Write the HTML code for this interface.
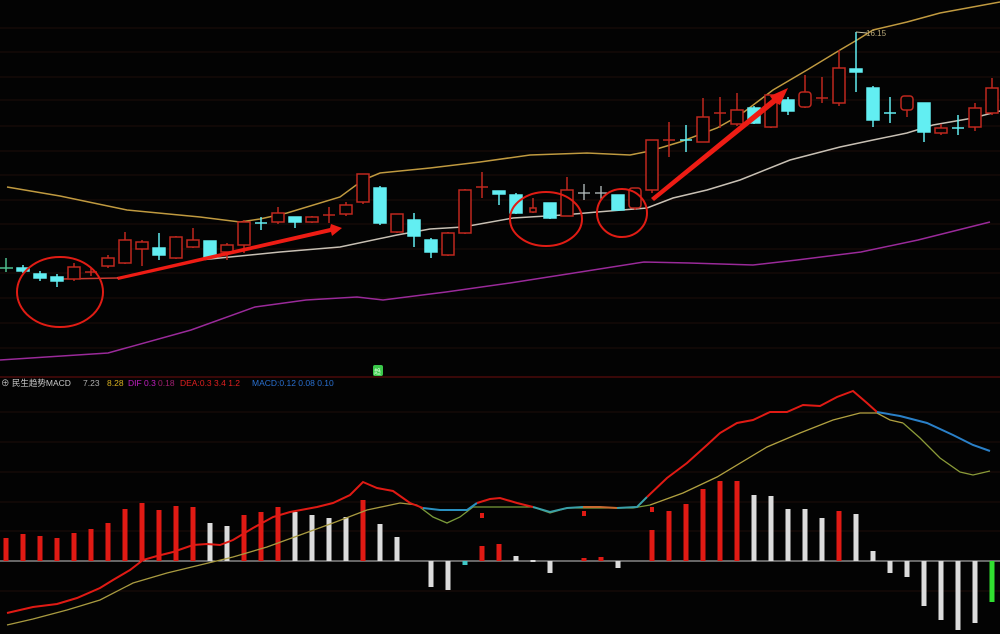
<!DOCTYPE html>
<html><head><meta charset="utf-8"><style>
html,body{margin:0;padding:0;background:#030303;}
svg{display:block;}
text{font-family:"Liberation Sans","Noto Sans CJK SC",sans-serif;}
</style></head><body>
<svg width="1000" height="634" viewBox="0 0 1000 634" xmlns="http://www.w3.org/2000/svg">
<rect width="1000" height="634" fill="#030303"/>
<!-- grid -->
<g stroke="#1c0c08" stroke-width="1">
<line x1="0" y1="28" x2="1000" y2="28"/><line x1="0" y1="52" x2="1000" y2="52"/>
<line x1="0" y1="77" x2="1000" y2="77"/><line x1="0" y1="100" x2="1000" y2="100"/>
<line x1="0" y1="126" x2="1000" y2="126"/><line x1="0" y1="151" x2="1000" y2="151"/>
<line x1="0" y1="175" x2="1000" y2="175"/><line x1="0" y1="200" x2="1000" y2="200"/>
<line x1="0" y1="224" x2="1000" y2="224"/><line x1="0" y1="249" x2="1000" y2="249"/>
<line x1="0" y1="273" x2="1000" y2="273"/><line x1="0" y1="298" x2="1000" y2="298"/>
<line x1="0" y1="323" x2="1000" y2="323"/><line x1="0" y1="348" x2="1000" y2="348"/>
<line x1="0" y1="412" x2="1000" y2="412"/><line x1="0" y1="442" x2="1000" y2="442"/>
<line x1="0" y1="472" x2="1000" y2="472"/><line x1="0" y1="502" x2="1000" y2="502"/>
<line x1="0" y1="531" x2="1000" y2="531"/><line x1="0" y1="591" x2="1000" y2="591"/>
</g>
<line x1="0" y1="377" x2="1000" y2="377" stroke="#5a0c0c" stroke-width="1.2"/>

<!-- purple line -->
<polyline fill="none" stroke="#9a2a9a" stroke-width="1.5" points="0,360 108,353 191,330 255,307 306,300 357,297 383,300 446,292 510,283 574,273 644,262 689,263 753,265 797,260 861,252 918,240 990,222"/>
<!-- upper band -->
<polyline fill="none" stroke="#c09a40" stroke-width="1.5" points="7,187 60,196 127,210 200,217 240,222 260,219 287,213 340,197 363,180 380,173 430,168 480,162 530,155 587,153 630,155 650,151 680,142 717,128 740,115 773,90 807,70 840,50 857,40 873,30 907,22 940,13 1000,2"/>
<!-- middle line -->
<polyline fill="none" stroke="#c8c0b4" stroke-width="1.5" points="117,278 200,260 280,252 340,247 397,235 430,229 463,227 513,218 563,215 597,212 647,208 673,198 707,190 740,180 790,160 840,147 873,140 907,133 933,125 973,118 1000,111"/>
<line x1="62" y1="279" x2="117" y2="278" stroke="#c83a30" stroke-width="1.5"/>

<!-- red candles -->
<g fill="#030303" stroke="#c0281e" stroke-width="1.5">
<line x1="74" y1="263" x2="74" y2="281"/><rect x="68" y="267" width="12" height="12"/>
<line x1="108" y1="255" x2="108" y2="268"/><rect x="102" y="258" width="12" height="8"/>
<line x1="125" y1="232" x2="125" y2="264"/><rect x="119" y="240" width="12" height="23"/>
<line x1="142" y1="240" x2="142" y2="266"/><rect x="136" y="242" width="12" height="7"/>
<line x1="176" y1="236" x2="176" y2="259"/><rect x="170" y="237" width="12" height="21"/>
<line x1="193" y1="228" x2="193" y2="248"/><rect x="187" y="240" width="12" height="7"/>
<line x1="227" y1="243" x2="227" y2="260"/><rect x="221" y="245" width="12" height="7"/>
<line x1="244" y1="220" x2="244" y2="253"/><rect x="238" y="222" width="12" height="23"/>
<line x1="278" y1="207" x2="278" y2="224"/><rect x="272" y="213" width="12" height="9"/>
<line x1="312" y1="216" x2="312" y2="223"/><rect x="306" y="217" width="12" height="5"/>
<line x1="346" y1="202" x2="346" y2="216"/><rect x="340" y="205" width="12" height="9"/>
<line x1="363" y1="174" x2="363" y2="204"/><rect x="357" y="174" width="12" height="28"/>
<line x1="397" y1="214" x2="397" y2="233"/><rect x="391" y="214" width="12" height="18"/>
<line x1="448" y1="232" x2="448" y2="256"/><rect x="442" y="233" width="12" height="22"/>
<line x1="465" y1="189" x2="465" y2="234"/><rect x="459" y="190" width="12" height="43"/>
<line x1="533" y1="198" x2="533" y2="213"/><rect x="530" y="208" width="6" height="4"/>
<line x1="567" y1="177" x2="567" y2="216"/><rect x="561" y="190" width="12" height="26"/>
<line x1="635" y1="188" x2="635" y2="210"/><rect x="629" y="188" width="12" height="20" rx="3"/>
<line x1="652" y1="140" x2="652" y2="193"/><rect x="646" y="140" width="12" height="50"/>
<line x1="703" y1="98" x2="703" y2="142"/><rect x="697" y="117" width="12" height="25"/>
<line x1="737" y1="93" x2="737" y2="126"/><rect x="731" y="110" width="12" height="14"/>
<line x1="771" y1="95" x2="771" y2="128"/><rect x="765" y="95" width="12" height="32"/>
<line x1="805" y1="75" x2="805" y2="108"/><rect x="799" y="92" width="12" height="15" rx="3"/>
<line x1="839" y1="50" x2="839" y2="106"/><rect x="833" y="68" width="12" height="35"/>
<line x1="907" y1="96" x2="907" y2="117"/><rect x="901" y="96" width="12" height="14" rx="3"/>
<line x1="941" y1="124" x2="941" y2="135"/><rect x="935" y="128" width="12" height="5"/>
<line x1="975" y1="103" x2="975" y2="131"/><rect x="969" y="108" width="12" height="19"/>
<line x1="992" y1="78" x2="992" y2="115"/><rect x="986" y="88" width="12" height="25"/>
</g>
<!-- red crosses -->
<g stroke="#c0281e" stroke-width="1.5">
<line x1="91" y1="268" x2="91" y2="276"/><line x1="85" y1="272" x2="97" y2="272"/>
<line x1="329" y1="207" x2="329" y2="223"/><line x1="323" y1="215" x2="335" y2="215"/>
<line x1="482" y1="172" x2="482" y2="198"/><line x1="476" y1="187" x2="488" y2="187"/>
<line x1="669" y1="122" x2="669" y2="157"/><line x1="663" y1="140" x2="675" y2="140"/>
<line x1="720" y1="97" x2="720" y2="128"/><line x1="714" y1="113" x2="726" y2="113"/>
<line x1="822" y1="77" x2="822" y2="103"/><line x1="816" y1="98" x2="828" y2="98"/>
</g>
<!-- cyan candles -->
<g fill="#62eef2" stroke="#62eef2" stroke-width="1.5">
<line x1="23" y1="265" x2="23" y2="273"/><rect x="17" y="268" width="12" height="3"/>
<line x1="40" y1="271" x2="40" y2="281"/><rect x="34" y="274" width="12" height="4"/>
<line x1="57" y1="274" x2="57" y2="287"/><rect x="51" y="277" width="12" height="4"/>
<line x1="159" y1="233" x2="159" y2="260"/><rect x="153" y="248" width="12" height="7"/>
<line x1="210" y1="241" x2="210" y2="259"/><rect x="204" y="241" width="12" height="16"/>
<line x1="295" y1="217" x2="295" y2="228"/><rect x="289" y="217" width="12" height="5"/>
<line x1="380" y1="186" x2="380" y2="225"/><rect x="374" y="188" width="12" height="35"/>
<line x1="414" y1="213" x2="414" y2="247"/><rect x="408" y="220" width="12" height="16"/>
<line x1="431" y1="238" x2="431" y2="258"/><rect x="425" y="240" width="12" height="12"/>
<line x1="499" y1="191" x2="499" y2="205"/><rect x="493" y="191" width="12" height="3"/>
<line x1="516" y1="193" x2="516" y2="214"/><rect x="510" y="195" width="12" height="18"/>
<line x1="550" y1="203" x2="550" y2="219"/><rect x="544" y="203" width="12" height="15"/>
<line x1="618" y1="195" x2="618" y2="211"/><rect x="612" y="195" width="12" height="15"/>
<line x1="754" y1="106" x2="754" y2="124"/><rect x="748" y="108" width="12" height="15"/>
<line x1="788" y1="97" x2="788" y2="115"/><rect x="782" y="100" width="12" height="11"/>
<line x1="856" y1="32" x2="856" y2="92"/><rect x="850" y="69" width="12" height="3"/>
<line x1="873" y1="86" x2="873" y2="127"/><rect x="867" y="88" width="12" height="32"/>
<line x1="924" y1="103" x2="924" y2="142"/><rect x="918" y="103" width="12" height="29"/>
</g>
<g stroke="#62eef2" stroke-width="1.5">
<line x1="261" y1="217" x2="261" y2="230"/><line x1="255" y1="223" x2="267" y2="223"/>
<line x1="686" y1="125" x2="686" y2="152"/><line x1="680" y1="140" x2="692" y2="140"/>
<line x1="890" y1="97" x2="890" y2="123"/><line x1="884" y1="113" x2="896" y2="113"/>
<line x1="958" y1="115" x2="958" y2="135"/><line x1="952" y1="128" x2="964" y2="128"/>
</g>
<g stroke="#b8c0c0" stroke-width="1.3">
<line x1="584" y1="184" x2="584" y2="200"/><line x1="578" y1="193" x2="590" y2="193"/>
<line x1="601" y1="186" x2="601" y2="200"/><line x1="595" y1="193" x2="607" y2="193"/>
</g>
<g stroke="#4fbf8f" stroke-width="1.5">
<line x1="6" y1="258" x2="6" y2="272"/><line x1="0" y1="268" x2="13" y2="268"/>
</g>
<!-- peak label -->
<line x1="856" y1="32" x2="867" y2="33" stroke="#c8c0a0" stroke-width="1"/>
<text x="866" y="36" font-size="8" fill="#b8a878">16.15</text>

<!-- red circles -->
<g fill="none" stroke="#e01c14" stroke-width="2">
<ellipse cx="60" cy="292" rx="43" ry="35"/>
<ellipse cx="546" cy="219" rx="36" ry="27"/>
<ellipse cx="622" cy="213" rx="25" ry="24"/>
</g>
<!-- red arrows -->
<g fill="#ee1c14" stroke="none">
<polygon points="117,277 330,228 331,224 342,228 332,236 331,232 118,280"/>
<polygon points="651,198 772,99 770,96 788,88 780,105 776,103 654,201"/>
</g>

<!-- green marker -->
<rect x="373" y="365" width="10" height="11" rx="2" fill="#3ac84a"/>
<text x="374" y="374" font-size="7" fill="#d8ffd8">趋</text>

<!-- labels -->
<g font-size="8.5">
<text x="1" y="386" fill="#c8c8c8">⊕ 民生趋势MACD</text>
<text x="83" y="386" fill="#b0b0b0">7.23</text>
<text x="107" y="386" fill="#d8b020">8.28</text>
<text x="128" y="386" fill="#c020c0">DIF 0.3</text>
<text x="158" y="386" fill="#a02070">0.18</text>
<text x="180" y="386" fill="#e02020">DEA:0.3 3.4 1.2</text>
<text x="252" y="386" fill="#2a70d0">MACD:0.12 0.08 0.10</text>
</g>

<!-- MACD zero line -->
<line x1="0" y1="561" x2="1000" y2="561" stroke="#c8c8c8" stroke-width="1"/>
<!-- histogram -->
<g fill="#e01a14">
<rect x="3.5" y="538" width="5" height="23"/><rect x="20.5" y="534" width="5" height="27"/>
<rect x="37.5" y="536" width="5" height="25"/><rect x="54.5" y="538" width="5" height="23"/>
<rect x="71.5" y="533" width="5" height="28"/><rect x="88.5" y="529" width="5" height="32"/>
<rect x="105.5" y="523" width="5" height="38"/><rect x="122.5" y="509" width="5" height="52"/>
<rect x="139.5" y="503" width="5" height="58"/><rect x="156.5" y="510" width="5" height="51"/>
<rect x="173.5" y="506" width="5" height="55"/><rect x="190.5" y="507" width="5" height="54"/>
<rect x="241.5" y="515" width="5" height="46"/><rect x="258.5" y="512" width="5" height="49"/>
<rect x="275.5" y="507" width="5" height="54"/><rect x="360.5" y="500" width="5" height="61"/>
<rect x="479.5" y="546" width="5" height="15"/><rect x="480" y="513" width="4" height="5"/>
<rect x="496.5" y="544" width="5" height="17"/>
<rect x="581.5" y="558" width="5" height="3"/><rect x="582" y="511" width="4" height="5"/>
<rect x="598.5" y="557" width="5" height="4"/>
<rect x="649.5" y="530" width="5" height="31"/><rect x="650" y="507" width="4" height="5"/>
<rect x="666.5" y="511" width="5" height="50"/><rect x="683.5" y="504" width="5" height="57"/>
<rect x="700.5" y="489" width="5" height="72"/><rect x="717.5" y="481" width="5" height="80"/>
<rect x="734.5" y="481" width="5" height="80"/><rect x="836.5" y="511" width="5" height="50"/>
</g>
<g fill="#dcdcdc">
<rect x="207.5" y="523" width="5" height="38"/><rect x="224.5" y="526" width="5" height="35"/>
<rect x="292.5" y="512" width="5" height="49"/><rect x="309.5" y="515" width="5" height="46"/>
<rect x="326.5" y="518" width="5" height="43"/><rect x="343.5" y="517" width="5" height="44"/>
<rect x="377.5" y="524" width="5" height="37"/><rect x="394.5" y="537" width="5" height="24"/>
<rect x="428.5" y="561" width="5" height="26"/><rect x="445.5" y="561" width="5" height="29"/>
<rect x="513.5" y="556" width="5" height="5"/><rect x="530.5" y="560" width="5" height="2"/>
<rect x="547.5" y="561" width="5" height="12"/><rect x="615.5" y="561" width="5" height="7"/>
<rect x="751.5" y="495" width="5" height="66"/><rect x="768.5" y="496" width="5" height="65"/>
<rect x="785.5" y="509" width="5" height="52"/><rect x="802.5" y="509" width="5" height="52"/>
<rect x="819.5" y="518" width="5" height="43"/><rect x="853.5" y="514" width="5" height="47"/>
<rect x="870.5" y="551" width="5" height="10"/>
<rect x="887.5" y="561" width="5" height="12"/><rect x="904.5" y="561" width="5" height="16"/>
<rect x="921.5" y="561" width="5" height="45"/><rect x="938.5" y="561" width="5" height="59"/>
<rect x="955.5" y="561" width="5" height="69"/><rect x="972.5" y="561" width="5" height="62"/>
</g>
<rect x="462.5" y="561" width="5" height="4" fill="#40c8c8"/>
<rect x="989.5" y="561" width="5" height="41" fill="#30e030"/>

<!-- DEA -->
<polyline fill="none" stroke="#a89a40" stroke-width="1.3" points="7,625 33,619 67,610 100,600 133,583 167,573 200,565 233,557 267,547 300,535 333,523 367,510 400,503 417,505"/>
<polyline fill="none" stroke="#7a9a3a" stroke-width="1.3" points="417,505 433,517 447,523 460,517 473,507 500,507 533,507 550,513 567,508 600,508 633,508 650,505"/>
<polyline fill="none" stroke="#b0a040" stroke-width="1.3" points="650,505 683,493 717,477 767,447 800,433 833,420 860,413 877,413 890,420 903,423"/>
<polyline fill="none" stroke="#8a9a38" stroke-width="1.3" points="903,423 920,438 940,458 960,472 973,475 990,471"/>
<!-- DIF -->
<polyline fill="none" stroke="#e01a14" stroke-width="2" points="7,613 33,607 57,604 77,598 100,588 113,580 130,570 143,560 157,556 173,552 193,545 207,544 220,545 233,540 253,528 273,517 290,512 317,507 333,503 350,495 363,482 377,488 393,491 410,503 423,508"/>
<polyline fill="none" stroke="#2a90c0" stroke-width="2" points="423,508 440,510 467,510 477,503"/>
<polyline fill="none" stroke="#e01a14" stroke-width="2" points="477,503 490,499 500,498 517,503 533,507"/>
<polyline fill="none" stroke="#3aa0a8" stroke-width="2" points="533,507 550,512 567,508 583,507"/>
<polyline fill="none" stroke="#c86a30" stroke-width="2" points="583,507 600,507 617,508"/>
<polyline fill="none" stroke="#3aa0a8" stroke-width="2" points="617,508 637,507 647,497"/>
<polyline fill="none" stroke="#e01a14" stroke-width="2" points="647,497 667,478 687,463 707,445 720,433 737,423 753,420 770,412 787,412 803,405 820,406 837,397 853,391 867,403 877,412"/>
<polyline fill="none" stroke="#2a80c8" stroke-width="2" points="877,412 900,416 927,423 953,435 973,445 990,451"/>
</svg>
</body></html>
